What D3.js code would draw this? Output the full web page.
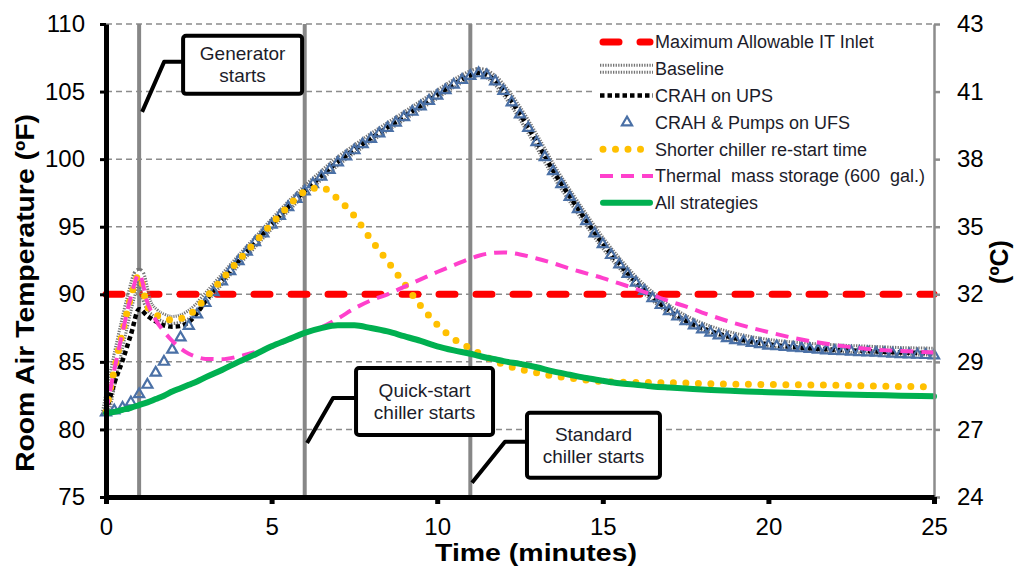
<!DOCTYPE html>
<html>
<head>
<meta charset="utf-8">
<script src="https://cdn.jsdelivr.net/npm/d3@7"></script>
<style>
  body { margin: 0; background: #fff; }
  text { font-family: "Liberation Sans", Arial, sans-serif; }
</style>
</head>
<body>
<div id="chart"></div>
<script>
// sample times (minutes) shared by the line series
const minutes = [0, 0.25, 0.5, 0.75, 1, 1.25, 1.5, 1.75, 2, 2.25, 2.5, 2.75, 3,
  3.5, 4, 4.5, 5, 5.5, 6, 6.5, 7, 7.5, 8, 8.5, 9, 9.5, 10, 10.5, 11,
  11.25, 11.5, 11.75, 12, 12.5, 13, 13.5, 14, 14.5, 15, 15.5, 16, 16.5, 17, 17.5, 18,
  19, 20, 21, 22, 23, 24, 25];

const maxInletTemp = [90, 90];
const maxInletTime = [0, 25];

const baselineTemp = [81.3, 84.4, 87.2, 89.8, 91.6, 89.4, 88.6, 88.25, 88.1, 88.2, 88.5, 89.0, 89.7,
  91.1, 92.5, 93.85, 95.2, 96.5, 97.7, 98.8, 99.85, 100.75, 101.6, 102.4, 103.2, 104.0, 104.8, 105.6, 106.25,
  106.45, 106.3, 105.85, 105.15, 103.4, 101.35, 99.2, 97.3, 95.5, 93.8, 92.3, 90.95, 89.85, 88.9, 88.15, 87.6,
  86.85, 86.4, 86.15, 86.0, 85.9, 85.8, 85.75];

const crahUpsTemp = [81.3, 83.4, 85.1, 87.0, 88.9, 88.4, 88.0, 87.7, 87.6, 87.65, 87.95, 88.6, 89.5,
  91.0, 92.45, 93.8, 95.15, 96.45, 97.65, 98.75, 99.8, 100.7, 101.55, 102.35, 103.15, 103.95, 104.75, 105.55, 106.2,
  106.4, 106.25, 105.8, 105.1, 103.35, 101.3, 99.15, 97.25, 95.45, 93.75, 92.25, 90.9, 89.8, 88.8, 88.05, 87.5,
  86.75, 86.3, 86.05, 85.9, 85.8, 85.7, 85.65];

const shorterRestartTemp = [81.3, 84.4, 87.2, 89.8, 91.4, 89.1, 88.5, 88.25, 88.1, 88.2, 88.45, 89.0, 89.7,
  91.1, 92.5, 93.85, 95.2, 96.5, 97.6, 97.9, 97.05, 95.8, 94.05, 92.45, 90.8, 89.15, 87.75, 86.7, 86.0,
  85.65, 85.35, 85.05, 84.8, 84.45, 84.2, 83.95, 83.8, 83.65, 83.55, 83.5, 83.48, 83.46, 83.45, 83.43, 83.4,
  83.35, 83.32, 83.3, 83.27, 83.23, 83.18, 83.15];

const thermalMassTemp = [81.3, 84.4, 87.2, 89.8, 91.5, 89.4, 88.1, 87.25, 86.55, 86.0, 85.6, 85.35, 85.22,
  85.2, 85.4, 85.72, 86.1, 86.6, 87.1, 87.55, 88.2, 88.95, 89.55, 90.0, 90.55, 91.1, 91.65, 92.15, 92.65,
  92.85, 93.0, 93.08, 93.1, 92.95, 92.65, 92.3, 91.9, 91.55, 91.2, 90.8, 90.4, 89.95, 89.5, 89.1, 88.65,
  87.85, 87.2, 86.65, 86.25, 85.95, 85.8, 85.7];

const allStrategiesTemp = [81.2, 81.3, 81.45, 81.6, 81.8, 82.0, 82.25, 82.5, 82.8, 83.05, 83.3, 83.55, 83.85,
  84.4, 85.0, 85.55, 86.15, 86.65, 87.15, 87.5, 87.7, 87.7, 87.5, 87.25, 86.9, 86.55, 86.15, 85.85, 85.6,
  85.45, 85.3, 85.2, 85.05, 84.85, 84.6, 84.3, 84.05, 83.8, 83.6, 83.42, 83.3, 83.18, 83.1, 83.03, 82.95,
  82.85, 82.75, 82.68, 82.6, 82.55, 82.5, 82.45];

// CRAH & pumps on UPS: one marker every quarter minute, 0 .. 25
const pumpsTemp = [
  81.25, 81.4, 81.6, 82.0, 82.6, 83.3, 84.2, 85.0, 85.9, 86.8,
  87.65, 88.5, 89.35, 90.15, 90.95, 91.7, 92.45, 93.15, 93.85, 94.5,
  95.15, 95.8, 96.45, 97.05, 97.6, 98.15, 98.7, 99.2, 99.75, 100.2,
  100.65, 101.1, 101.5, 101.9, 102.3, 102.7, 103.1, 103.5, 103.9, 104.3,
  104.7, 105.1, 105.5, 105.85, 106.15, 106.35, 106.2, 105.75, 105.05, 104.2,
  103.3, 102.3, 101.25, 100.15, 99.1, 98.15, 97.2, 96.3, 95.4, 94.5,
  93.7, 92.9, 92.2, 91.5, 90.85, 90.25, 89.7, 89.2, 88.75, 88.35,
  88.0, 87.7, 87.4, 87.15, 86.95, 86.75, 86.6, 86.5, 86.4, 86.3,
  86.2, 86.15, 86.1, 86.05, 86.0, 85.95, 85.9, 85.85, 85.8, 85.78,
  85.75, 85.72, 85.7, 85.67, 85.63, 85.6, 85.57, 85.55, 85.52, 85.5,
  85.48];
const pumpsMinutes = d3.range(0, 25.001, 0.25);

const eventMinutes = [1, 6, 11];
const tempTicksF = [75, 80, 85, 90, 95, 100, 105, 110];
const minuteTicks = [0, 5, 10, 15, 20, 25];

const legendLabels = ["Maximum Allowable IT Inlet", "Baseline", "CRAH on UPS", "CRAH & Pumps on UFS",
  "Shorter chiller re-start time", "Thermal  mass storage (600  gal.)", "All strategies"];
const calloutText = [["Generator", "starts"], ["Quick-start", "chiller starts"], ["Standard", "chiller starts"]];

const margin = { top: 24, right: 92, bottom: 69, left: 106 },
    width = 1026 - margin.left - margin.right,
    height = 566 - margin.top - margin.bottom;

const root = d3.select("#chart").append("svg")
    .attr("width", 1026)
    .attr("height", 566)
    .style("display", "block");
root.append("rect").attr("width", 1026).attr("height", 566).attr("fill", "#fff");

const svg = root.append("g")
    .attr("transform", `translate(${margin.left},${margin.top})`);

const x = d3.scaleLinear().domain([0, 25]).range([0, width]);
const y = d3.scaleLinear().domain([75, 110]).range([height, 0]);
const toC = f => (f - 32) / 1.8;
const yC = d3.scaleLinear().domain([toC(75), toC(110)]).range([height, 0]);

// dashed gridlines
svg.selectAll(".grid")
    .data(tempTicksF.filter(d => d > 75))
    .join("line")
    .attr("x1", 0).attr("x2", width)
    .attr("y1", d => y(d)).attr("y2", d => y(d))
    .attr("stroke", "#8c8c8c")
    .attr("stroke-width", 1.5)
    .attr("stroke-dasharray", "6,4");

// event markers (generator, quick-start chiller, standard chiller)
svg.selectAll(".event")
    .data(eventMinutes)
    .join("line")
    .attr("x1", d => x(d)).attr("x2", d => x(d))
    .attr("y1", 0).attr("y2", height)
    .attr("stroke", "#878787")
    .attr("stroke-width", 4);

const line = d3.line().x(d => x(d[0])).y(d => y(d[1])).curve(d3.curveMonotoneX);
const pairs = (t, v) => t.map((d, i) => [d, v[i]]);

const styles = {
  maxInlet: { stroke: "#ff0000", width: 7, dash: "16,21", cap: "round" },
  crahUps: { stroke: "#000", width: 4.5, dash: "4.5,3", cap: "butt" },
  shorter: { stroke: "#ffc000", width: 7, dash: "0,12.5", cap: "round" },
  thermal: { stroke: "#ff40cc", width: 4, dash: "13,8", cap: "butt" },
  all: { stroke: "#00b050", width: 6, dash: null, cap: "round" }
};

function styled(sel, s) {
  return sel.attr("fill", "none")
      .attr("stroke", s.stroke)
      .attr("stroke-width", s.width)
      .attr("stroke-dasharray", s.dash)
      .attr("stroke-linecap", s.cap);
}

function baselineStroke(sel) {
  sel.append("path").attr("d", sel.datum()).attr("fill", "none")
      .attr("stroke", "#747474").attr("stroke-width", 10).attr("stroke-dasharray", "1.3,1.3");
  sel.append("path").attr("d", sel.datum()).attr("fill", "none")
      .attr("stroke", "#fff").attr("stroke-width", 4);
}

const triangle = d3.symbol(d3.symbolTriangle, 44);
const triColor = "#4a70a6";

styled(svg.append("path").attr("d", line(pairs(maxInletTime, maxInletTemp))), styles.maxInlet);
svg.append("g").datum(line(pairs(minutes, baselineTemp))).call(baselineStroke);
styled(svg.append("path").attr("d", line(pairs(minutes, crahUpsTemp))), styles.crahUps);

svg.selectAll(".tri")
    .data(pairs(pumpsMinutes, pumpsTemp))
    .join("path")
    .attr("d", triangle)
    .attr("transform", d => `translate(${x(d[0])},${y(d[1])})`)
    .attr("fill", "none")
    .attr("stroke", triColor)
    .attr("stroke-width", 2.2);

styled(svg.append("path").attr("d", line(pairs(minutes, shorterRestartTemp))), styles.shorter);
styled(svg.append("path").attr("d", line(pairs(minutes, thermalMassTemp))), styles.thermal);
styled(svg.append("path").attr("d", line(pairs(minutes, allStrategiesTemp))), styles.all);

// axes
const leftAxis = svg.append("g")
    .call(d3.axisLeft(y).tickValues(tempTicksF).tickSize(6).tickSizeOuter(0).tickPadding(15));
leftAxis.select(".domain").attr("stroke", "#000").attr("stroke-width", 5);
leftAxis.selectAll(".tick line").attr("stroke", "#000").attr("stroke-width", 3);

const rightAxis = svg.append("g")
    .attr("transform", `translate(${width},0)`)
    .call(d3.axisRight(yC).tickValues(tempTicksF.map(toC)).tickFormat(d3.format(".0f"))
      .tickSize(6).tickSizeOuter(0).tickPadding(17));
rightAxis.select(".domain").attr("stroke", "#8c8c8c").attr("stroke-width", 2.5);
rightAxis.selectAll(".tick line").attr("stroke", "#8c8c8c").attr("stroke-width", 2.5);

const bottomAxis = svg.append("g")
    .attr("transform", `translate(0,${height})`)
    .call(d3.axisBottom(x).tickValues(minuteTicks).tickSize(7).tickSizeOuter(0).tickPadding(14));
bottomAxis.select(".domain").attr("stroke", "#000").attr("stroke-width", 5);
bottomAxis.selectAll(".tick line").attr("stroke", "#000").attr("stroke-width", 5);

svg.selectAll(".tick text")
    .attr("font-family", "'Liberation Sans', Arial, sans-serif")
    .attr("font-size", 24)
    .attr("fill", "#000");

// axis titles
root.append("text")
    .attr("transform", "translate(34,293) rotate(-90)")
    .attr("text-anchor", "middle")
    .attr("font-size", 26).attr("font-weight", "bold")
    .attr("textLength", 358).attr("lengthAdjust", "spacingAndGlyphs")
    .text("Room Air Temperature (ºF)");
root.append("text")
    .attr("x", 536).attr("y", 561)
    .attr("text-anchor", "middle")
    .attr("font-size", 24).attr("font-weight", "bold")
    .attr("textLength", 202).attr("lengthAdjust", "spacingAndGlyphs")
    .text("Time (minutes)");
root.append("text")
    .attr("transform", "translate(1008,262) rotate(-90)")
    .attr("text-anchor", "middle")
    .attr("font-size", 25).attr("font-weight", "bold")
    .text("(ºC)");

// callouts: leader tip, knee offset and box offset/size in pixels
const calloutLayout = [
  { tip: [1.09, 103.5], knee: [22, -50], box: [41, -76, 119, 58] },
  { tip: [6.07, 79.0], knee: [26, -45], box: [49, -75, 137, 67] },
  { tip: [11.05, 76.05], knee: [33, -41], box: [55, -70, 133, 65] }
];
calloutLayout.forEach((c, i) => {
  const tx = x(c.tip[0]), ty = y(c.tip[1]);
  const g = svg.append("g").attr("transform", `translate(${tx},${ty})`);
  g.append("polyline")
      .attr("points", `0,0 ${c.knee[0]},${c.knee[1]} ${c.box[0]},${c.knee[1]}`)
      .attr("fill", "none").attr("stroke", "#000").attr("stroke-width", 4)
      .attr("stroke-linejoin", "round");
  g.append("rect")
      .attr("x", c.box[0]).attr("y", c.box[1])
      .attr("width", c.box[2]).attr("height", c.box[3])
      .attr("rx", 3)
      .attr("fill", "#fff").attr("stroke", "#000").attr("stroke-width", 4);
  const cx = c.box[0] + c.box[2] / 2, cy = c.box[1] + c.box[3] / 2;
  calloutText[i].forEach((t, j) => {
    g.append("text")
        .attr("x", cx).attr("y", cy + (j - 0.5) * 22)
        .attr("dy", "0.35em")
        .attr("text-anchor", "middle")
        .attr("font-size", 19)
        .attr("fill", "#1c1c2a")
        .text(t);
  });
});

// legend
const legend = root.append("g");
legend.append("rect").attr("x", 592).attr("y", 28).attr("width", 340).attr("height", 188).attr("fill", "#fff");
const legendKeys = ["maxInlet", "baseline", "crahUps", "pumps", "shorter", "thermal", "all"];
legendKeys.forEach((k, i) => {
  const ly = 42 + i * 26.8;
  if (k === "baseline") {
    legend.append("g").datum(`M600,${ly}H653`).call(baselineStroke);
  } else if (k === "pumps") {
    legend.append("path").attr("d", triangle)
        .attr("transform", `translate(627,${ly})`)
        .attr("fill", "none").attr("stroke", triColor).attr("stroke-width", 2.2);
  } else {
    const d = (k === "crahUps" || k === "thermal") ? `M600,${ly}H653` : `M603,${ly}H650`;
    styled(legend.append("path").attr("d", d), styles[k]);
  }
  legend.append("text")
      .attr("x", 655).attr("y", ly)
      .attr("dy", "0.35em")
      .attr("font-size", 18)
      .attr("fill", "#1c1c2a")
      .style("white-space", "pre")
      .text(legendLabels[i]);
});
</script>
</body>
</html>
